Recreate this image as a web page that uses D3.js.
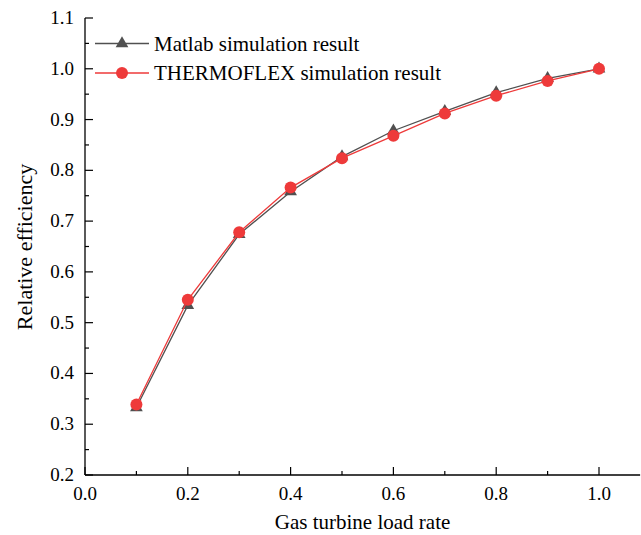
<!DOCTYPE html>
<html><head><meta charset="utf-8">
<script src="https://cdn.jsdelivr.net/npm/d3@7"></script>
<style>body{margin:0;background:#fff}svg{display:block}</style>
</head><body>
<svg id="c" width="641" height="535"></svg>
<script>
const loadRates = [0.1,0.2,0.3,0.4,0.5,0.6,0.7,0.8,0.9,1.0];
const matlab = [0.333,0.534,0.674,0.758,0.827,0.878,0.916,0.953,0.981,1.0];
const thermoflex = [0.339,0.545,0.678,0.766,0.824,0.868,0.912,0.947,0.976,1.0];
const seriesNames = ["Matlab simulation result","THERMOFLEX simulation result"];
const xTicks = [0.0,0.2,0.4,0.6,0.8,1.0];
const yTicks = [0.2,0.3,0.4,0.5,0.6,0.7,0.8,0.9,1.0,1.1];

const svg = d3.select("#c");
const font = "'Liberation Serif','Times New Roman',serif";
const L = 85, B = 475, T = 18;
const x = d3.scaleLinear().domain([0,1.08]).range([L,L+(599-L)*1.08]);
const y = d3.scaleLinear().domain([0.2,1.1]).range([B,T]);

// axes lines
svg.append("line").attr("x1",L).attr("x2",L).attr("y1",T).attr("y2",B).attr("stroke","#000").attr("stroke-width",1.3);
svg.append("line").attr("x1",L).attr("x2",x(1.08)).attr("y1",B).attr("y2",B).attr("stroke","#000").attr("stroke-width",1.3);

// y ticks (inward)
const yMinor = d3.range(0.25,1.1,0.1);
svg.selectAll(".ym").data(yTicks).join("line").attr("x1",L).attr("x2",L+8).attr("y1",d=>y(d)).attr("y2",d=>y(d)).attr("stroke","#000").attr("stroke-width",1.2);
svg.selectAll(".yn").data(yMinor).join("line").attr("x1",L).attr("x2",L+4).attr("y1",d=>y(d)).attr("y2",d=>y(d)).attr("stroke","#000").attr("stroke-width",1.2);
svg.selectAll(".yl").data(yTicks).join("text").attr("x",L-11).attr("y",d=>y(d)+6).attr("text-anchor","end")
  .attr("font-family",font).attr("font-size",19).text(d=>d.toFixed(1));

// x ticks (inward)
const xMinor = d3.range(0.1,1.1,0.2);
svg.selectAll(".xm").data(xTicks).join("line").attr("x1",d=>x(d)).attr("x2",d=>x(d)).attr("y1",B).attr("y2",B-8).attr("stroke","#000").attr("stroke-width",1.2);
svg.selectAll(".xn").data(xMinor).join("line").attr("x1",d=>x(d)).attr("x2",d=>x(d)).attr("y1",B).attr("y2",B-4).attr("stroke","#000").attr("stroke-width",1.2);
svg.selectAll(".xl").data(xTicks).join("text").attr("x",d=>x(d)).attr("y",B+25).attr("text-anchor","middle")
  .attr("font-family",font).attr("font-size",19).text(d=>d.toFixed(1));

// axis titles
svg.append("text").attr("x",(L+x(1.08))/2).attr("y",529).attr("text-anchor","middle").attr("font-family",font).attr("font-size",21).text("Gas turbine load rate");
svg.append("text").attr("transform","translate(32,247) rotate(-90)").attr("text-anchor","middle").attr("font-family",font).attr("font-size",22).text("Relative efficiency");

const gray = "#505050", red = "#ee3a3a";
const line = d3.line().x((d,i)=>x(loadRates[i])).y(d=>y(d));
const tri = d3.symbol().type(d3.symbolTriangle).size(70);

svg.append("path").attr("d",line(matlab)).attr("fill","none").attr("stroke",gray).attr("stroke-width",1.3);
svg.selectAll(".tm").data(matlab).join("path").attr("d",tri).attr("fill",gray)
  .attr("transform",(d,i)=>`translate(${x(loadRates[i])},${y(d)})`);
svg.append("path").attr("d",line(thermoflex)).attr("fill","none").attr("stroke",red).attr("stroke-width",1.3);
svg.selectAll(".cm").data(thermoflex).join("circle").attr("cx",(d,i)=>x(loadRates[i])).attr("cy",d=>y(d)).attr("r",6).attr("fill",red);

// legend
const lg = svg.append("g");
[[gray,"tri",43.5],[red,"circ",73]].forEach((s,k)=>{
  lg.append("line").attr("x1",95).attr("x2",149).attr("y1",s[2]).attr("y2",s[2]).attr("stroke",s[0]).attr("stroke-width",1.3);
  if(s[1]==="tri") lg.append("path").attr("d",tri).attr("fill",gray).attr("transform",`translate(122,${s[2]})`);
  else lg.append("circle").attr("cx",122).attr("cy",s[2]).attr("r",6).attr("fill",red);
  lg.append("text").attr("x",154).attr("y",s[2]+7).attr("font-family",font).attr("font-size",21).text(seriesNames[k]);
});
</script>
</body></html>
